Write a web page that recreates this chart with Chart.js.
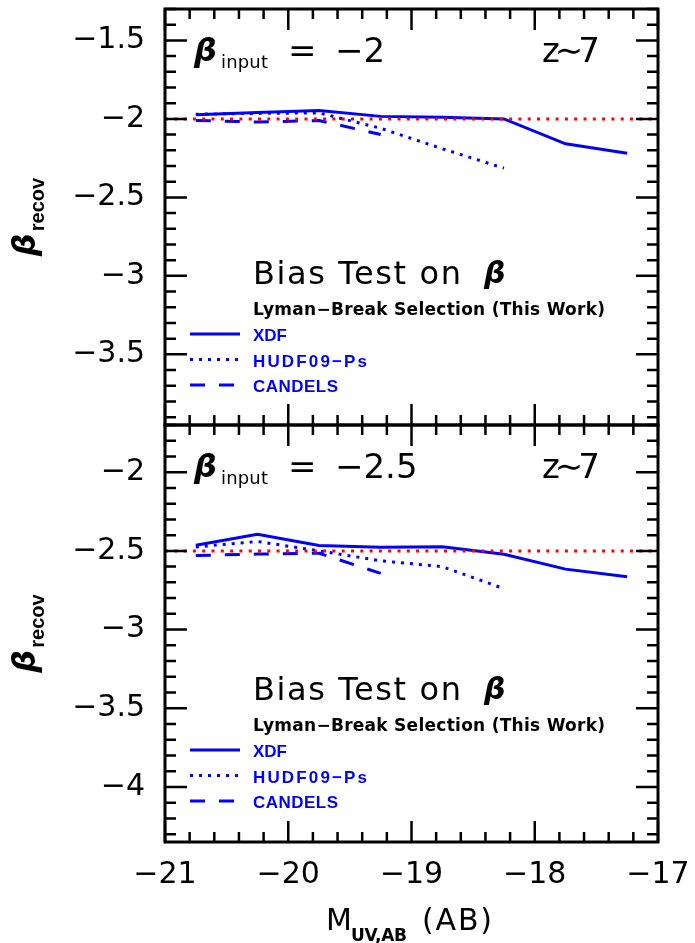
<!DOCTYPE html>
<html>
<head>
<meta charset="utf-8">
<script src="https://cdn.jsdelivr.net/npm/chart.js@4.4.0/dist/chart.umd.min.js"></script>
<style>
html,body{margin:0;padding:0;background:#fff;}
.panel{position:absolute;left:0;top:0;width:695px;height:943px;}
</style>
</head>
<body>
<div class="panel"><canvas id="topChart"></canvas></div>
<div class="panel"><canvas id="bottomChart"></canvas></div>
<script>
'use strict';

// magnitude bins (M_UV,AB)
const mags = [-20.75, -20.25, -19.75, -19.25, -18.75, -18.25, -17.75, -17.25];
const magTicks = [-21, -20, -19, -18, -17];

// beta_input = -2
const xdfTop = [-1.973, -1.96, -1.947, -1.984, -1.99, -2.0, -2.159, -2.219];
const hudfTop = [-1.97, -1.965, -1.962, -2.06, -2.19, -2.314];
const candelsTop = [-2.01, -2.02, -2.01, -2.10];

// beta_input = -2.5
const xdfBot = [-2.464, -2.394, -2.466, -2.477, -2.474, -2.521, -2.616, -2.664];
const hudfBot = [-2.475, -2.44, -2.50, -2.563, -2.60, -2.74];
const candelsBot = [-2.53, -2.52, -2.515, -2.643];

const inputBeta = [-2, -2.5];
const topYTicks = [-3.5, -3, -2.5, -2, -1.5];
const botYTicks = [-4, -3.5, -3, -2.5, -2];

const blue = '#0000ff';
const red = '#ff0000';
const FONT = 'DejaVu Sans';

function minus(v) {
  return String(Math.round(v * 10) / 10).replace('-', '\u2212');
}

function pts(vals) {
  return vals.map((v, i) => ({x: mags[i], y: v}));
}

function fitText(ctx, s, x, y, w) {
  ctx.letterSpacing = '0px';
  if (w) {
    const m = ctx.measureText(s).width;
    ctx.letterSpacing = ((w - m) / Math.max(s.length - 1, 1)) + 'px';
  }
  ctx.fillText(s, x, y);
  ctx.letterSpacing = '0px';
}

const framePlugin = {
  id: 'frame',
  afterDraw(chart) {
    const {ctx, chartArea: a, scales: {x, y}} = chart;
    const o = chart.options.plugins.frame;
    const T = a.top;
    ctx.save();
    ctx.strokeStyle = '#000';
    ctx.lineWidth = 2.5;
    ctx.beginPath();
    // x ticks, major 1, minor 0.2
    for (let k = -105; k <= -85; k++) {
      const px = x.getPixelForValue(k / 5);
      const len = k % 5 === 0 ? 21 : 10;
      ctx.moveTo(px, a.top); ctx.lineTo(px, a.top + len);
      ctx.moveTo(px, a.bottom); ctx.lineTo(px, a.bottom - len);
    }
    // y ticks, major 0.5, minor 0.1
    for (let k = Math.ceil(y.min * 10); k <= Math.floor(y.max * 10); k++) {
      const py = y.getPixelForValue(k / 10);
      const len = k % 5 === 0 ? 22 : 11;
      ctx.moveTo(a.left, py); ctx.lineTo(a.left + len, py);
      ctx.moveTo(a.right, py); ctx.lineTo(a.right - len, py);
    }
    ctx.stroke();
    ctx.lineWidth = 3;
    ctx.strokeRect(a.left, a.top, a.right - a.left, a.bottom - a.top);

    ctx.fillStyle = '#000';
    ctx.textBaseline = 'alphabetic';
    ctx.textAlign = 'left';
    // beta_input = ...
    ctx.font = 'bold italic 32px ' + FONT;
    ctx.fillText('\u03B2', 194, T + 52);
    ctx.font = '18px ' + FONT;
    fitText(ctx, 'input', 221, T + 59, 47);
    ctx.font = '34px ' + FONT;
    ctx.fillText('=', 288, T + 53);
    ctx.fillText(minus(o.beta), 335, T + 53);
    fitText(ctx, 'z\u223C7', 542, T + 53, 58);

    // Bias test title
    ctx.font = '32px ' + FONT;
    fitText(ctx, 'Bias Test on', 253, T + 275, 208);
    ctx.font = 'bold italic 30px ' + FONT;
    ctx.fillText('\u03B2', 484, T + 274);
    ctx.font = 'bold 17px ' + FONT;
    fitText(ctx, 'Lyman\u2212Break Selection (This Work)', 253, T + 306, 352);

    // legend
    const rows = [['XDF', [], 34], ['HUDF09\u2212Ps', [3, 6], 114], ['CANDELS', [15, 14], 85]];
    ctx.fillStyle = blue;
    ctx.strokeStyle = blue;
    ctx.lineWidth = 3;
    rows.forEach((r, i) => {
      const by = T + 332 + i * 25.5;
      ctx.setLineDash(r[1]);
      ctx.beginPath();
      ctx.moveTo(190, by - 7); ctx.lineTo(240, by - 7);
      ctx.stroke();
      ctx.font = 'bold 17px Liberation Sans';
      fitText(ctx, r[0], 253, by, r[2]);
    });
    ctx.setLineDash([]);

    // y title
    ctx.fillStyle = '#000';
    ctx.save();
    ctx.translate(35, (a.top + a.bottom) / 2);
    ctx.rotate(-Math.PI / 2);
    ctx.font = 'bold italic 32px ' + FONT;
    const bw = ctx.measureText('\u03B2').width;
    ctx.font = 'bold 20px Liberation Sans';
    const rw = ctx.measureText('recov').width;
    const sx = -(bw + 2 + rw) / 2;
    ctx.font = 'bold italic 32px ' + FONT;
    ctx.fillText('\u03B2', sx, 0);
    ctx.font = 'bold 20px Liberation Sans';
    ctx.fillText('recov', sx + bw + 2, 9);
    ctx.restore();

    // x title
    if (o.showX) {
      ctx.font = '30px ' + FONT;
      ctx.fillText('M', 326, 930);
      ctx.font = 'bold 17px ' + FONT;
      fitText(ctx, 'UV,AB', 351, 941, 56);
      ctx.font = '30px ' + FONT;
      fitText(ctx, '(AB)', 422, 930, 70);
    }
    ctx.restore();
  }
};

function makePanel(id, o) {
  const tickFont = {family: FONT, size: 30, weight: 'normal'};
  return new Chart(document.getElementById(id), {
    type: 'line',
    data: {
      datasets: [
        {label: 'input', data: [{x: -21, y: o.beta}, {x: -17, y: o.beta}],
          borderColor: red, borderWidth: 3, borderDash: [3, 6.3]},
        {label: 'XDF', data: pts(o.xdf), borderColor: blue, borderWidth: 3},
        {label: 'HUDF09-Ps', data: pts(o.hudf), borderColor: blue, borderWidth: 3, borderDash: [3, 6]},
        {label: 'CANDELS', data: pts(o.candels), borderColor: blue, borderWidth: 3, borderDash: [15, 14]}
      ]
    },
    options: {
      responsive: true,
      maintainAspectRatio: false,
      animation: false,
      layout: {padding: {left: 0, right: 37, top: o.top, bottom: o.bottom}},
      elements: {point: {radius: 0}, line: {tension: 0, borderCapStyle: 'butt', fill: false}},
      plugins: {legend: {display: false}, tooltip: {enabled: false}, frame: o},
      scales: {
        x: {
          type: 'linear', min: -21, max: -17, display: o.showX,
          grid: {display: false, drawTicks: false}, border: {display: false},
          afterBuildTicks: s => { s.ticks = magTicks.map(v => ({value: v})); },
          ticks: {padding: 15, color: '#000', font: tickFont, maxRotation: 0, callback: v => minus(v)},
          afterFit: s => {
            if (!o.showX) return;
            s.height = 101; s.paddingLeft = 0; s.paddingRight = 0;
          }
        },
        y: {
          type: 'linear', min: o.min, max: o.max,
          grid: {display: false, drawTicks: false}, border: {display: false},
          afterBuildTicks: s => { s.ticks = o.yTicks.map(v => ({value: v})); },
          ticks: {padding: 20, color: '#000', font: tickFont, callback: v => minus(v)},
          afterFit: s => { s.width = 165; s.paddingTop = 0; s.paddingBottom = 0; }
        }
      }
    },
    plugins: [framePlugin]
  });
}

makePanel('topChart', {
  beta: inputBeta[0], xdf: xdfTop, hudf: hudfTop, candels: candelsTop,
  min: -3.95, max: -1.3, yTicks: topYTicks, top: 9, bottom: 518, showX: false
});
makePanel('bottomChart', {
  beta: inputBeta[1], xdf: xdfBot, hudf: hudfBot, candels: candelsBot,
  min: -4.35, max: -1.7, yTicks: botYTicks, top: 425, bottom: 0, showX: true
});
</script>
</body>
</html>
